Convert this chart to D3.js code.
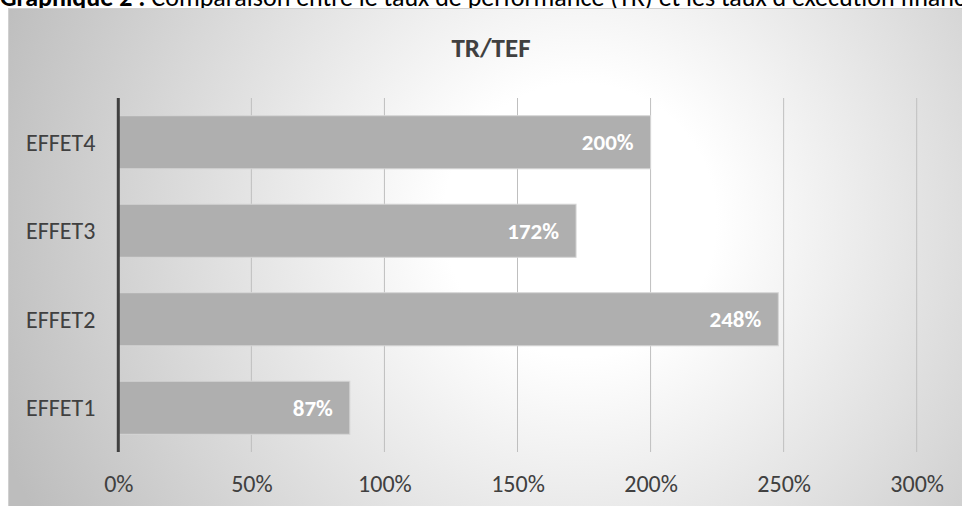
<!DOCTYPE html>
<html>
<head>
<meta charset="utf-8">
<script src="https://cdn.jsdelivr.net/npm/d3@7"></script>
<style>
  html, body { margin: 0; padding: 0; background: #ffffff; overflow: hidden; }
  svg { display: block; }
</style>
</head>
<body>
<svg id="chart" width="962" height="506"></svg>
<script>
const categories = ["EFFET1", "EFFET2", "EFFET3", "EFFET4"];
const values = [87, 248, 172, 200];
const tickValues = [0, 50, 100, 150, 200, 250, 300];
const chartTitle = "TR/TEF";
const captionBold = "Graphique 2 :";
const captionRest = " Comparaison entre le taux de performance (TR) et les taux d'exécution financière";

const FONT = "Carlito, Calibri, Lato, sans-serif";
const svg = d3.select("#chart");

const defs = svg.append("defs");
const grad = defs.append("radialGradient")
  .attr("id", "bg").attr("gradientUnits", "userSpaceOnUse")
  .attr("cx", 580).attr("cy", 220).attr("r", 620);
grad.append("stop").attr("offset", "0").attr("stop-color", "#ffffff");
grad.append("stop").attr("offset", "0.22").attr("stop-color", "#ffffff");
grad.append("stop").attr("offset", "1").attr("stop-color", "#bdbdbd");

// caption (cut off at top, as in the reference)
const cap = svg.append("text").attr("x", 0).attr("y", 6)
  .attr("font-family", FONT).attr("font-size", 26).attr("fill", "#000");
cap.append("tspan").attr("font-weight", "bold").text(captionBold);
cap.append("tspan").text(captionRest);

// chart area
svg.append("rect").attr("x", 8.5).attr("y", 8.5).attr("width", 970).attr("height", 510)
  .attr("fill", "url(#bg)").attr("stroke", "#d0d0d0").attr("stroke-width", 1);

const plot = { left: 118.3, right: 916.7, top: 98, bottom: 452 };

const x = d3.scaleLinear().domain([0, 300]).range([plot.left, plot.right]);
const y = d3.scaleBand().domain(categories.slice().reverse())
  .range([plot.top, plot.bottom]).paddingInner(0.4).paddingOuter(0.2);

// title
svg.append("text").attr("x", 491).attr("y", 57).attr("text-anchor", "middle")
  .attr("font-family", FONT).attr("font-size", 27).attr("font-weight", "bold")
  .attr("fill", "#404040").text(chartTitle);

// gridlines
svg.append("g").selectAll("line").data(tickValues.filter(d => d > 0)).join("line")
  .attr("x1", d => x(d)).attr("x2", d => x(d))
  .attr("y1", plot.top).attr("y2", plot.bottom)
  .attr("stroke", "#bfbfbf").attr("stroke-width", 1);

// bars
svg.append("g").selectAll("rect").data(categories).join("rect")
  .attr("x", x(0))
  .attr("y", d => y(d))
  .attr("width", (d, i) => x(values[i]) - x(0))
  .attr("height", y.bandwidth())
  .attr("fill", "#afafaf")
  .attr("stroke", "#d6d6d6").attr("stroke-width", 1);

// bar labels
svg.append("g").selectAll("text").data(categories).join("text")
  .attr("x", (d, i) => x(values[i]) - 17)
  .attr("y", d => y(d) + y.bandwidth() / 2)
  .attr("dy", "0.35em")
  .attr("text-anchor", "end")
  .attr("font-family", FONT).attr("font-size", 23).attr("font-weight", "bold")
  .attr("fill", "#ffffff")
  .text((d, i) => values[i] + "%");

// x axis labels
const xAxis = d3.axisBottom(x).tickValues(tickValues).tickSize(0).tickPadding(0)
  .tickFormat(d => d + "%");
const gx = svg.append("g").attr("transform", `translate(0,${plot.bottom})`).call(xAxis);
gx.select(".domain").remove();
gx.selectAll("text").attr("y", 32).attr("dy", "0.35em")
  .attr("font-family", FONT).attr("font-size", 24).attr("fill", "#404040");

// y axis labels
const yAxis = d3.axisLeft(y).tickSize(0).tickPadding(0);
const gy = svg.append("g").attr("transform", `translate(${plot.left},0)`).call(yAxis);
gy.select(".domain").remove();
gy.selectAll("text").attr("x", -23).attr("dy", "0.35em")
  .attr("font-family", FONT).attr("font-size", 24).attr("fill", "#404040");

// left axis line
svg.append("line").attr("x1", plot.left).attr("x2", plot.left)
  .attr("y1", plot.top).attr("y2", plot.bottom)
  .attr("stroke", "#404040").attr("stroke-width", 3);
</script>
</body>
</html>
